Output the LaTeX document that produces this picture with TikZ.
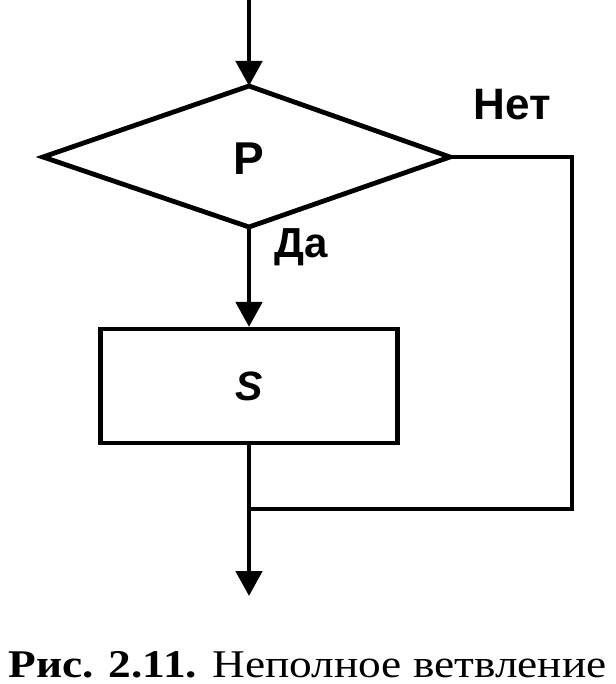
\documentclass[tikz,border=0pt]{standalone}
\usepackage{fontspec}
\setmainfont{Liberation Serif}
\setsansfont{Liberation Sans}
\usetikzlibrary{arrows.meta}
\tikzset{
  flow/.style={line width=4.8pt, line join=miter},
  arr/.style={flow, -{Triangle[width=26pt,length=25pt]}},
  lbl/.style={inner sep=0pt, anchor=base},
  stepbox/.style={draw, line width=4.2pt, minimum width=297pt, minimum height=114pt, inner sep=0pt},
}
\newcommand{\fs}[1]{\fontsize{#1pt}{#1pt}\selectfont}
\begin{document}
\begin{tikzpicture}[x=1pt,y=-1pt]
\useasboundingbox (0,0) rectangle (615,684);
% decision
\coordinate (start) at (249,0);
\coordinate (dT) at (249,86);
\coordinate (dL) at (43,157);
\coordinate (dR) at (450,157);
\coordinate (dB) at (249,227);
\draw[flow] (dT) -- (dR) -- (dB) -- (dL) -- cycle;
\node[lbl, font=\sffamily\bfseries\fs{46}] (P) at (249,175) {P};
% process
\node[stepbox, font=\sffamily\bfseries\itshape\fs{41}] (S) at (249,386) {S};
% connectors
\coordinate (rc1) at (572,157);
\coordinate (rc2) at (572,509);
\coordinate (join) at (249,509);
\coordinate (end) at (249,596);
\draw[arr] (start) -- (dT);
\draw[arr] (dB) -- (S.north);
\draw[flow] (dR) -- (rc1) -- (rc2) -- (join);
\draw[arr] (S.south) -- (end);
% labels
\node[lbl, font=\sffamily\bfseries\fs{44}] (no) at (512,120) {Нет};
\node[lbl, font=\sffamily\bfseries\fs{42}] (yes) at (301,258) {Да};
% caption
\node[inner sep=0pt, anchor=base] (cap) at (307.5,677)
  {\resizebox{598pt}{26pt}{\fs{39}\textbf{Рис. 2.11.} Неполное ветвление}};
\end{tikzpicture}
\end{document}
